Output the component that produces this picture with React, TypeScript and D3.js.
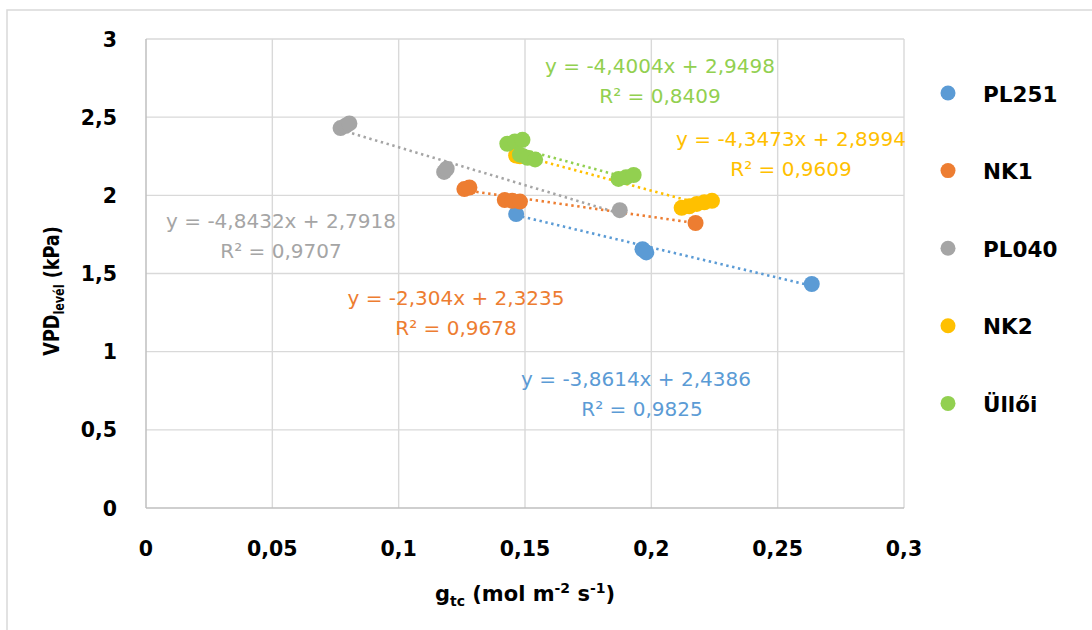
import React from "react";
import * as d3 from "d3";

const seriesNames = ["PL251", "NK1", "PL040", "NK2", "Üllői"];
const seriesColors = ["#5B9BD5", "#ED7D31", "#A5A5A5", "#FFC000", "#92D050"];

const pl251X = [0.1465, 0.1965, 0.198, 0.2635];
const pl251Y = [1.88, 1.655, 1.635, 1.433];
const nk1X = [0.126, 0.128, 0.142, 0.145, 0.148, 0.2175];
const nk1Y = [2.04, 2.05, 1.97, 1.965, 1.96, 1.823];
const pl040X = [0.077, 0.079, 0.0805, 0.118, 0.119, 0.1875];
const pl040Y = [2.43, 2.445, 2.46, 2.15, 2.17, 1.905];
const nk2X = [0.1465, 0.148, 0.212, 0.215, 0.218, 0.221, 0.224];
const nk2Y = [2.255, 2.25, 1.92, 1.93, 1.945, 1.955, 1.965];
const ulloiX = [0.143, 0.146, 0.149, 0.148, 0.151, 0.154, 0.187, 0.19, 0.193];
const ulloiY = [2.33, 2.345, 2.355, 2.26, 2.24, 2.23, 2.105, 2.115, 2.13];

const trendSlopes = [-3.8614, -2.304, -4.8432, -4.3473, -4.4004];
const trendIntercepts = [2.4386, 2.3235, 2.7918, 2.8994, 2.9498];
const eqTexts = [
  "y = -3,8614x + 2,4386",
  "y = -2,304x + 2,3235",
  "y = -4,8432x + 2,7918",
  "y = -4,3473x + 2,8994",
  "y = -4,4004x + 2,9498",
];
const r2Texts = ["R² = 0,9825", "R² = 0,9678", "R² = 0,9707", "R² = 0,9609", "R² = 0,8409"];

const xTicks = [0, 0.05, 0.1, 0.15, 0.2, 0.25, 0.3];
const yTicks = [0, 0.5, 1, 1.5, 2, 2.5, 3];

// label anchor positions (pixels): center x, baseline y of equation line
const eqPos = [
  [636, 386],
  [456, 305],
  [281, 228],
  [791, 146],
  [660, 73],
];

const allX = [pl251X, nk1X, pl040X, nk2X, ulloiX];
const allY = [pl251Y, nk1Y, pl040Y, nk2Y, ulloiY];

const fmt = (v: number) => String(v).replace(".", ",");

export default function App() {
  const W = 1092,
    H = 630;
  const x = d3.scaleLinear().domain([0, 0.3]).range([146, 904]);
  const y = d3.scaleLinear().domain([0, 3]).range([508, 39]);
  const font = "'DejaVu Sans', sans-serif";

  const line = d3
    .line<number>()
    .x((d) => d[0])
    .y((d) => d[1]);

  return (
    <svg
      width={W}
      height={H}
      style={{ position: "absolute", left: 0, top: 0, background: "#fff" }}
      fontFamily={font}
    >
      <rect x={0} y={0} width={W} height={H} fill="#fff" />
      <rect x={7} y={10} width={W + 20} height={H + 20} fill="none" stroke="#D9D9D9" strokeWidth={1.5} />
      {/* gridlines */}
      {yTicks.slice(1).map((t) => (
        <line key={"gy" + t} x1={x(0)} x2={x(0.3)} y1={y(t)} y2={y(t)} stroke="#D9D9D9" strokeWidth={1.4} />
      ))}
      {xTicks.slice(1).map((t) => (
        <line key={"gx" + t} x1={x(t)} x2={x(t)} y1={y(0)} y2={y(3)} stroke="#D9D9D9" strokeWidth={1.4} />
      ))}
      {/* axes */}
      <line x1={x(0)} x2={x(0)} y1={y(0)} y2={y(3)} stroke="#BFBFBF" strokeWidth={1.5} />
      <line x1={x(0)} x2={x(0.3)} y1={y(0)} y2={y(0)} stroke="#BFBFBF" strokeWidth={1.5} />
      {/* tick labels */}
      {yTicks.map((t) => (
        <text key={"yl" + t} x={117} y={y(t) + 7.5} textAnchor="end" fontSize={20.5} fontWeight="bold" fill="#000">
          {fmt(t)}
        </text>
      ))}
      {xTicks.map((t) => (
        <text key={"xl" + t} x={x(t)} y={556} textAnchor="middle" fontSize={20.5} fontWeight="bold" fill="#000">
          {fmt(t)}
        </text>
      ))}
      {/* axis titles */}
      <text x={525} y={601} textAnchor="middle" fontSize={21} fontWeight="bold" fill="#000">
        <tspan>g</tspan>
        <tspan fontSize={14} dy={5}>tc</tspan>
        <tspan dy={-5}> (mol m</tspan>
        <tspan fontSize={14} dy={-8}>-2</tspan>
        <tspan dy={8}> s</tspan>
        <tspan fontSize={14} dy={-8}>-1</tspan>
        <tspan dy={8}>)</tspan>
      </text>
      <g transform="translate(59,291) rotate(-90) scale(0.8,1)">
        <text x={0} y={0} textAnchor="middle" fontSize={22} fontWeight="bold" fill="#000">
          <tspan>VPD</tspan>
          <tspan fontSize={14} dy={5}>levél</tspan>
          <tspan dy={-5}> (kPa)</tspan>
        </text>
      </g>
      {/* trendlines */}
      {seriesNames.map((n, i) => {
        const ext = d3.extent(allX[i]) as [number, number];
        const pts = ext.map((v) => [x(v), y(trendSlopes[i] * v + trendIntercepts[i])]);
        return (
          <path
            key={"tl" + n}
            d={line(pts as any) || ""}
            stroke={seriesColors[i]}
            strokeWidth={2.6}
            strokeDasharray="2.4 3.6"
            fill="none"
          />
        );
      })}
      {/* markers */}
      {seriesNames.map((n, i) => (
        <g key={"s" + n} fill={seriesColors[i]}>
          {allX[i].map((v, j) => (
            <circle key={j} cx={x(v)} cy={y(allY[i][j])} r={8} />
          ))}
        </g>
      ))}
      {/* equation labels */}
      {seriesNames.map((n, i) => (
        <g key={"eq" + n} fill={seriesColors[i]} fontSize={20} textAnchor="middle">
          <text x={eqPos[i][0]} y={eqPos[i][1]}>{eqTexts[i]}</text>
          <text x={eqPos[i][0] + (i === 0 ? 6 : 0)} y={eqPos[i][1] + 30}>{r2Texts[i]}</text>
        </g>
      ))}
      {/* legend */}
      {seriesNames.map((n, i) => (
        <g key={"lg" + n}>
          <circle cx={948} cy={93 + i * 77.6} r={7.5} fill={seriesColors[i]} />
          <text x={983} y={93 + i * 77.6 + 8.5} fontSize={21.5} fontWeight="bold" fill="#000">
            {n}
          </text>
        </g>
      ))}
    </svg>
  );
}
